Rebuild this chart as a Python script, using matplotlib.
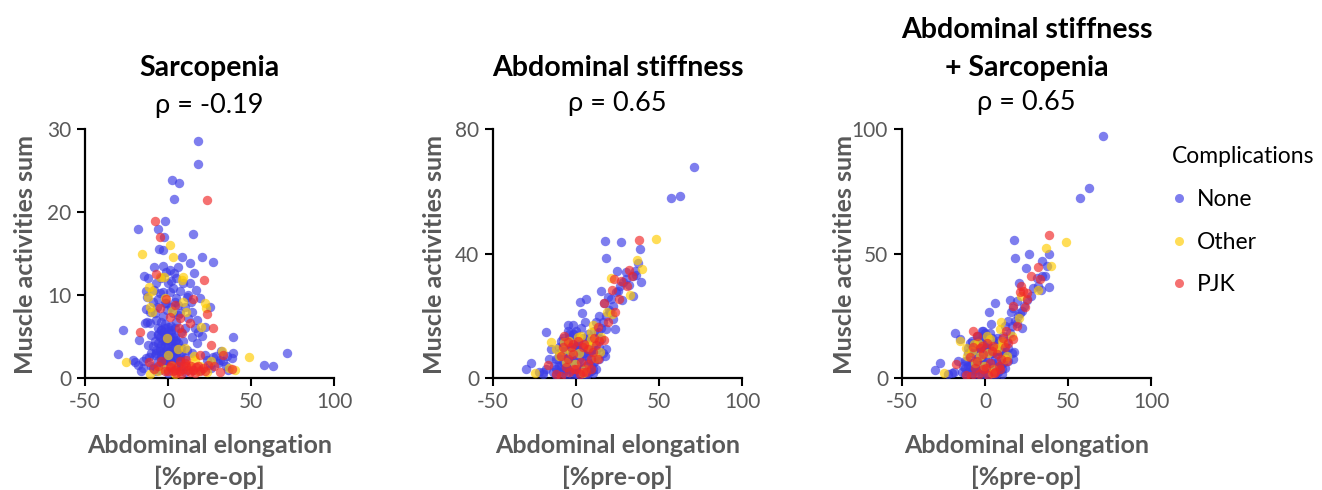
import matplotlib
matplotlib.use("Agg")
import matplotlib.pyplot as plt
from matplotlib.lines import Line2D

plt.rcParams['font.family'] = ['Lato', 'DejaVu Sans']

groups = ["None", "Other", "PJK"]
group_colors = {"None": "#3c3ce6", "Other": "#ffcc00", "PJK": "#f02828"}

titles = [["Sarcopenia"], ["Abdominal stiffness"], ["Abdominal stiffness", "+ Sarcopenia"]]
rho_labels = ["ρ = -0.19", "ρ = 0.65", "ρ = 0.65"]
y_max = [30, 80, 100]
y_ticks = [[0, 10, 20, 30], [0, 40, 80], [0, 50, 100]]
x_ticks = [-50, 0, 50, 100]
x_label = "Abdominal elongation\n[%pre-op]"
y_label = "Muscle activities sum"

# ---------------- Panel 1: Sarcopenia ----------------
p1_none_x = [18.0, 18.2, 2.5, 6.6, 3.6, -18.2, -1.9, -6.1, -2.5, 15.0, -5.7, -3.1, 20.7, 27.1, 8.6, 13.0,
             6.0, -8.3, -14.4, -1.3, 3.4, 15.8, 13.4, 1.7, -12.8, -8.7, -3.3, 1.3, 5.0, 11.4, 17.0, 19.1,
             25.1, -13.4, -6.7, -0.7, 7.4, 14.4, -12.8, -7.5, 17.4, 22.5, -27.0, -17.2, -29.9, -20.8, -17.8,
             -14.8, -11.7, 14.4, 17.4, 20.7, 11.4, 14.4, 23.5, 31.5, 35.6, 39.0, 39.0, 38.6, 32.1, 57.7,
             63.1, 71.4,
             -5, -3, -1, 1, 3, 5, -6, -4, -2, 0, 2, 4, 6, -7, -5, -3, -1, 1, 3, 5, -4, -2, 0, 2, -8, 7, 8,
             -9, -6, -2, 2, 5, 8, 10, 9, -10, -11, -3, 3, -9, -5, 0, 4, 7, 10, 12, -4, 1, -7, -12, -13,
             -5, -10, -7, 0, 5, 10, 15, 20, 25, 30, 35, -16, -20, -13, 27, 33, -4, -1, 2, -6, 4,
             -8, -6, -4, -2, 0, 2, 4, 6, 8, -7, -5, -3, -1, 1, 3, 5, 7, -6, -4, -2, 0, 2, 4, 6, -5, -3,
             -1, 1, 3, 5, -9, 9, -10, 10, -4, 0, 4, -2, 2, 6,
             -11, -8, -6, -1, 3, 6, 9, 12, 14, 16, 18, -14, -12, -15, 22, 26, 29, 36, -3, 5]
p1_none_y = [28.5, 25.8, 23.8, 23.5, 21.6, 17.9, 18.9, 18.0, 17.0, 17.4, 15.6, 15.4, 14.6, 14.0, 14.6, 13.9,
             13.4, 13.4, 12.3, 12.8, 12.6, 12.6, 11.4, 11.7, 9.8, 10.6, 10.4, 10.4, 9.6, 9.8, 10.6, 9.6,
             8.6, 8.3, 8.6, 8.2, 7.8, 8.0, 6.8, 7.0, 7.0, 6.2, 5.8, 4.6, 2.9, 2.2, 1.6,
             1.2, 2.5, 5.0, 4.2, 5.1, 3.4, 3.0, 2.2, 2.2, 2.6, 4.9, 3.0, 2.4, 3.2, 1.6,
             1.5, 3.0,
             5.0, 5.5, 5.2, 4.8, 5.0, 4.6, 4.2, 4.0, 4.4, 4.0, 4.2, 3.8, 3.5, 3.4, 3.2, 3.0, 3.4, 3.2, 3.0, 2.8,
             2.4, 2.2, 2.6, 2.0, 2.8, 2.2, 3.0, 3.8, 6.0, 6.5, 6.3, 6.8, 5.5, 6.0, 4.5, 5.2, 6.6, 7.5, 7.8,
             9.2, 10.2, 11.5, 9.2, 10.5, 8.5, 7.2, 12.0, 13.0, 11.5, 12.0, 10.5,
             1.0, 1.5, 0.8, 0.6, 1.2, 0.7, 1.0, 1.0, 1.6, 1.8, 1.5, 0.9, 1.9, 2.4, 2.5, 2.0, 5.8, 4.7, 5.8, 5.3, 4.4,
             4.5, 5.2, 5.8, 6.0, 5.6, 5.4, 5.0, 4.2, 3.6, 3.0, 3.6, 4.6, 4.8, 4.4, 3.6, 3.2, 2.6, 2.0, 2.8, 3.8,
             3.2, 2.8, 2.4, 2.0, 1.6, 1.8, 2.0, 2.2, 1.8, 1.5, 1.2, 1.5, 3.0, 2.4, 6.8, 6.2, 6.0, 9.0, 8.5, 7.6,
             8.0, 7.8, 9.5, 9.0, 10.8, 8.8, 11.5, 10.0, 9.2, 6.0, 5.5, 6.6, 4.0, 2.0, 2.8, 1.2, 2.6, 1.0, 13.5, 12.0]
p1_other_x = [-15.4, 1.3, 2.9, -4.7, -2.7, 9.0, 8.4, -11.7, -9.5, -2.1, 9.0, 22.3, 22.9, -10.7, -9.7, 2.7,
              10.8, 19.7, -0.7, 6.0, 10.0, 0.3, -25.2, 15.4, 32.5, 48.6, 23.5, -10.7, 2.3, 36.6, 40.6, 12.4,
              19.5, -2.7, 16.4, -12, -6, 4, 18, 26, 14]
p1_other_y = [14.9, 16.0, 14.6, 12.2, 12.2, 12.2, 11.8, 11.0, 10.5, 9.6, 9.2, 9.0, 8.4, 8.6, 7.9, 8.1,
              7.9, 6.2, 4.8, 3.5, 3.6, 2.8, 1.9, 2.6, 3.2, 2.5, 0.7, 0.5, 1.4, 1.2, 1.0, 1.6,
              1.4, 1.1, 2.2, 9.8, 0.8, 0.5, 0.9, 2.0, 1.2]
p1_pjk_x = [-7.7, -4.6, 23.5, -7.3, 21.9, -1.3, 4.1, 15.2, 23.5, -5.1, 1.3, 7.4, 13.0, 27.1, 6.8, 8.4,
            -17.0, 25.7, -11.5, -4.1, 19.5, 33.0, 31.5, 38.6, 27.5, -8.7,
            3, 5, 7, 9, 11, 13, 15, 17, 19, 21, 6, 10, 14, 1,
            0, 2, 4, 8, 12, 16, 18, 22, 24, -2, -6, 11, 7]
p1_pjk_y = [18.9, 17.0, 21.4, 12.5, 11.8, 9.5, 8.8, 9.5, 7.7, 8.4, 7.4, 7.2, 6.6, 6.0, 6.0, 5.4,
            5.6, 4.0, 1.9, 2.1, 2.8, 2.8, 0.7, 1.1, 1.4, 1.1,
            0.9, 0.6, 0.8, 1.1, 1.4, 0.7, 1.0, 1.3, 0.8, 1.2, 1.5, 1.8, 1.5, 1.3,
            0.8, 1.6, 1.0, 0.5, 1.0, 0.6, 1.5, 0.9, 1.6, 0.9, 1.4, 2.2, 2.0]

# ---------------- Panel 2: Abdominal stiffness ----------------
p2_none_x = [71.1, 57.4, 62.4, 17.7, 26.9, 38.8, 18.1, 37.3, 24.9, 35.3, 38.9, 34.3, 34.3, 14.9, 2.4, 6.2,
             3.6, 5.6, -18.3, -5.0, -14.9, -29.9, -27.3, -19.9, 17.3, 18.3, 20.3, 22.3, 21.3, 24.3, 26.3,
             28.3, 30.3, 23.3, 18.3, 13.3, 15.3, 9.2,
             -12, -10, -8, -6, -4, -2, 0, 2, 4, 6, 8, 10, 12, 14, -12, -10, -8, -6, -4, -2, 0, 2, 4, 6, 8,
             10, 12, -14, -12, -10, -8, -6, -4, -2, 0, 2, 4, 6, -7, -3, 1, 5, 9, -9, -5, -1, 3, 7, 11, 13,
             15, -16, -18, -22, -20, 16, 18, 20, 14, 12, 17, 19, 22, 25, 28, 30, 32, 36, -2, -8, 8, 10,
             -10, -8, -6, -4, -2, 0, 2, 4, 6, 8, 10, 12, -9, -7, -5, -3, -1, 1, 3, 5, 7, 9, 11, -11, -13,
             -6, -2, 2, 6, 10, 14, 16, -4, 0, 4, 8]
p2_none_y = [67.9, 57.8, 58.6, 44.1, 43.7, 41.6, 38.4, 36.9, 34.5, 34.5, 30.7, 32.9, 26.4, 27.8, 24.3, 25.4,
             20.9, 17.9, 14.7, 17.0, 9.3, 2.9, 4.7, 1.8, 7.2, 9.3, 21.1, 19.0, 25.4, 27.5, 29.7,
             30.7, 31.8, 15.7, 15.7, 14.7, 12.5, 2.1,
             6, 8, 10, 12, 13, 14, 12, 11, 10, 12, 13, 11, 9, 10, 3, 4, 5, 6, 7, 8, 7, 6, 5, 4, 6,
             5, 3, 2, 1, 2, 1.5, 2.5, 3, 2, 1.5, 3, 2, 1.5, 8, 10, 9, 8, 9, 12, 15, 14, 16, 14, 15, 13,
             16, 6, 3, 2, 1.2, 18, 20, 22, 20, 18, 24, 26, 23, 28, 25, 34, 30, 33, 17, 13, 2, 3,
             10, 11, 9, 10, 11, 10, 9, 8, 7, 9, 8, 7, 4, 3, 4, 5, 5, 4, 3, 3, 2, 4, 5, 6, 4,
             1, 1, 1, 0.8, 1.5, 6, 8, 14, 15, 13, 11]
p2_other_x = [48.4, 36.7, 39.8, 21.3, 32.3, 18.9, 21.9, 10.2, 8.8, -15.3, -24.9, -11.8, -10.2, 1.2, 3.2,
              9.2, 15.3, 14.3, -0.8, 5.2, -2.8, -7.2, 6, 12, -8, -4, 2, 8, 11, 4, -6]
p2_other_y = [44.6, 37.8, 35.0, 32.0, 26.8, 21.1, 20.6, 17.0, 14.7, 11.7, 1.6, 9.3, 7.2, 13.1, 13.6,
              12.5, 13.1, 8.2, 4.5, 2.9, 8.2, 11.5, 10.5, 6.5, 9, 12, 8, 10, 12, 1.5, 5]
p2_pjk_x = [37.9, 31.9, 33.5, 27.3, 30.9, 22.9, 21.9, 25.9, 16.7, 23.7, 19.3, 13.3, 16.9, -7.4, -4.8,
            -17.1, -7.8, -1.8, 4.2, 7.2, 10.2, 9.2, 7.2, -4.4, -11.8, 2.2, -8.8, 0, 4, 12, -2,
            -9, -5, -3, 1, 5, 11, 14, 13, 3, -1, 6, 9, -6]
p2_pjk_y = [44.4, 34.8, 32.9, 31.3, 29.7, 31.8, 28.4, 25.4, 24.0, 21.3, 17.9, 16.3, 12.2, 13.6, 11.5,
            4.3, 9.9, 7.7, 9.9, 9.3, 8.2, 6.1, 4.5, 1.8, 1.3, 1.3, 0.7, 3.0, 2.0, 10.5, 11.0,
            7, 6, 10, 12, 11, 13, 12, 6, 5, 3, 2, 3, 3.5]

# ---------------- Panel 3: Abdominal stiffness + Sarcopenia ----------------
p3_none_x = [71.3, 57.3, 62.5, 17.6, 18.2, 26.8, 38.8, 34.2, 24.6, 37.2, 34.2, 20.2, 38.8, 33.6, 14.8,
             5.9, 2.5, 3.7, -1.5, -17.9, -14.9, -29.9, -27.3, -18.9, 16.8, 17.2, 15.8, 19.2, 22.2, 21.2,
             23.2, 25.2, 29.2, 31.2,
             -12, -10, -8, -6, -4, -2, 0, 2, 4, 6, 8, 10, 12, 14, -12, -10, -8, -6, -4, -2, 0, 2, 4, 6, 8,
             10, 12, -14, -12, -10, -8, -6, -4, -2, 0, 2, 4, 6, -7, -3, 1, 5, 9, -9, -5, -1, 3, 7, 11, 13,
             15, -16, -20, -22, 16, 18, 20, 14, 12, 17, 19, 22, 28, 32, 36, -2, -8, 8, 10,
             -10, -8, -6, -4, -2, 0, 2, 4, 6, 8, 10, 12, -9, -7, -5, -3, -1, 1, 3, 5, 7, 9, 11, -11, -13,
             -6, -2, 2, 6, 10, 14, 16, -4, 0, 4, 8]
p3_none_y = [97.1, 72.3, 76.3, 55.6, 48.1, 49.8, 49.7, 47.1, 44.2, 45.1, 41.1, 38.0, 36.4, 35.3, 31.3,
             30.0, 26.4, 21.7, 19.0, 18.1, 15.7, 3.2, 5.9, 2.3, 7.6, 10.3, 26.4, 22.0, 20.0, 26.0,
             29.0, 31.5, 36.0, 40.0,
             7, 10, 12, 14, 15, 16, 14, 13, 12, 14, 15, 13, 11, 12, 4, 5, 6, 7, 8, 9, 8, 7, 6, 5, 7,
             6, 4, 2.5, 1.5, 2.5, 2, 3, 3.5, 2.5, 2, 3.5, 2.5, 2, 10, 12, 11, 10, 11, 14, 17, 16, 18, 16, 17, 15,
             18, 7, 2, 1.5, 21, 23, 25, 23, 21, 28, 31, 27, 33, 37, 41, 19, 15, 2.5, 3.5,
             12, 13, 11, 12, 13, 12, 11, 10, 8.5, 11, 10, 8.5, 5, 3.5, 5, 6, 6, 5, 3.5, 3.5, 2.5, 5, 6, 7, 5,
             1.2, 1.2, 1.2, 1, 1.8, 7, 10, 17, 18, 16, 13]
p3_other_x = [48.7, 36.6, 39.6, 32.2, 21.8, 20.2, 9.6, 9.2, -15.3, -24.5, -11.5, -10.9, 1.1, 3.1, 10.2,
              16.2, 13.2, -0.9, 5.1, -3.3, -6.9, 6, 12, -8, -4, 2, 8, 11, 4, -6]
p3_other_y = [54.5, 52.1, 44.8, 35.5, 32.8, 24.0, 22.4, 19.7, 15.0, 2.0, 11.9, 9.0, 17.0, 15.7, 15.0,
              17.0, 9.0, 5.0, 3.6, 9.0, 13.7, 12.0, 7.5, 11, 14, 10, 12, 14, 2, 6]
p3_pjk_x = [38.4, 31.8, 33.2, 27.6, 21.8, 22.6, 25.6, 21.0, 25.0, 16.8, 23.8, 19.2, 12.8, 16.8, -7.5,
            -4.9, -17.3, -7.5, -1.5, 4.5, 7.5, 9.5, 8.5, -3.9, -11.5, 2.1, -8.4, 5.6, 0.6, 12, -2,
            -9, -5, -3, 1, 5, 11, 14, 13, 3, -1, 6, 9, -6]
p3_pjk_y = [57.6, 44.4, 39.8, 41.1, 37.1, 35.0, 34.0, 34.5, 31.7, 28.8, 28.4, 20.7, 19.0, 15.7, 19.0,
            17.0, 5.6, 12.6, 9.6, 11.0, 9.6, 7.6, 5.0, 1.6, 1.2, 1.2, 0.7, 2.2, 4.2, 12.5, 13.0,
            8.5, 7, 12, 14, 13, 16, 14, 7, 6, 3.5, 2.5, 3.5, 4]

panels = [
    {"None": (p1_none_x, p1_none_y), "Other": (p1_other_x, p1_other_y), "PJK": (p1_pjk_x, p1_pjk_y)},
    {"None": (p2_none_x, p2_none_y), "Other": (p2_other_x, p2_other_y), "PJK": (p2_pjk_x, p2_pjk_y)},
    {"None": (p3_none_x, p3_none_y), "Other": (p3_other_x, p3_other_y), "PJK": (p3_pjk_x, p3_pjk_y)},
]

W, H = 1322, 490
fig = plt.figure(figsize=(W / 100, H / 100), dpi=100)

ax_lefts = [85, 493, 902]
ax_w, ax_top, ax_bottom = 249, 129, 378
title_lines_y = [[68], [68], [30, 68]]
rho_y = [105, 104, 102]
ylabel_x = [26, 435, 844]
grey = "#595959"

for i, data in enumerate(panels):
    ax = fig.add_axes([ax_lefts[i] / W, 1 - ax_bottom / H, ax_w / W, (ax_bottom - ax_top) / H])
    for g in groups:
        xs, ys = data[g]
        ax.scatter(xs, ys, s=46, color=group_colors[g], alpha=0.66, linewidths=0, zorder=3)
    ax.set_xlim(-50, 100)
    ax.set_ylim(0, y_max[i])
    ax.set_xticks(x_ticks)
    ax.set_yticks(y_ticks[i])
    ax.set_xticklabels([str(t) for t in x_ticks])
    ax.spines['top'].set_visible(False)
    ax.spines['right'].set_visible(False)
    for sp in ('left', 'bottom'):
        ax.spines[sp].set_linewidth(1.6)
        ax.spines[sp].set_color('black')
    ax.tick_params(axis='both', length=6, width=1.5, color='black', labelsize=15,
                   labelcolor=grey, pad=4)
    ax.patch.set_alpha(0)
    cx = (ax_lefts[i] + ax_w / 2) / W
    for line, yy in zip(titles[i], title_lines_y[i]):
        fig.text(cx, 1 - yy / H, line, ha='center', va='center', fontsize=20.5, fontweight='bold',
                 color='black')
    fig.text(cx, 1 - rho_y[i] / H, rho_labels[i], ha='center', va='center', fontsize=19.5, color='black')
    fig.text(cx, 1 - 445 / H, x_label.split("\n")[0], ha='center', va='center', fontsize=18,
             fontweight='bold', color=grey)
    fig.text(cx, 1 - 477 / H, x_label.split("\n")[1], ha='center', va='center', fontsize=18,
             fontweight='bold', color=grey)
    fig.text(ylabel_x[i] / W, 1 - 254 / H, y_label, ha='center', va='center', rotation=90,
             fontsize=18, fontweight='bold', color=grey)

handles = [Line2D([0], [0], marker='o', linestyle='none', markersize=6.5, markeredgewidth=0,
                  markerfacecolor=group_colors[g], alpha=0.66) for g in groups]
leg = fig.legend(handles, groups, title="Complications", loc='upper left',
                 bbox_to_anchor=(1172 / W, 1 - 146 / H), frameon=False, fontsize=16.5,
                 title_fontsize=16.5, alignment='left', handlelength=0.6, handletextpad=0.5,
                 labelspacing=0.95, borderpad=0, borderaxespad=0)

fig.savefig("out.png", dpi=100)
